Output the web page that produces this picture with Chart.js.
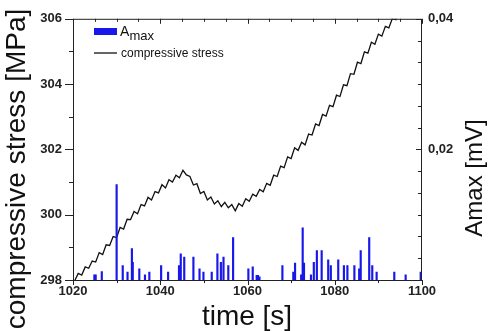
<!DOCTYPE html>
<html>
<head>
<meta charset="utf-8">
<script src="https://cdn.jsdelivr.net/npm/chart.js@4.4.1/dist/chart.umd.min.js"></script>
<style>
  html, body { margin: 0; padding: 0; background: #fff; }
  #wrap { width: 488px; height: 331px; position: relative; }
</style>
</head>
<body>
<div id="wrap"><canvas id="stressChart"></canvas></div>
<script>
// axis ranges and labelled ticks
const timeMin = 1020, timeMax = 1100;
const stressMin = 298, stressMax = 306;
const ampMin = 0, ampMax = 0.04;
const timeTicks = [1020, 1040, 1060, 1080, 1100];
const stressTicks = [298, 300, 302, 304, 306];
const ampTicks = [0.02, 0.04];

// compressive stress [MPa] over time [s]
const stressTime = [
  1020.4, 1021.2, 1022.0, 1022.8, 1023.6, 1024.4, 1025.2, 1026.0, 1026.8, 1027.6,
  1028.4, 1029.2, 1030.0, 1030.8, 1031.6, 1032.4, 1033.2, 1034.0, 1034.8, 1035.6,
  1036.4, 1037.2, 1038.0, 1038.8, 1039.6, 1040.4, 1041.2, 1042.0, 1042.8, 1043.6,
  1044.4, 1045.2, 1046.0, 1046.8, 1047.6, 1048.4, 1049.2, 1050.0, 1050.8, 1051.6,
  1052.4, 1053.2, 1054.0, 1054.8, 1055.6, 1056.4, 1057.2, 1058.0, 1058.8, 1059.6,
  1060.4, 1061.2, 1062.0, 1062.8, 1063.6, 1064.4, 1065.2, 1066.0, 1066.8, 1067.6,
  1068.4, 1069.2, 1070.0, 1070.8, 1071.6, 1072.4, 1073.2, 1074.0, 1074.8, 1075.6,
  1076.4, 1077.2, 1078.0, 1078.8, 1079.6, 1080.4, 1081.2, 1082.0, 1082.8, 1083.6,
  1084.4, 1085.2, 1086.0, 1086.8, 1087.6, 1088.4, 1089.2, 1090.0, 1090.8, 1091.6,
  1092.4, 1093.2, 1094.0, 1094.8
];
const stressValue = [
  297.98, 298.20, 298.15, 298.40, 298.36, 298.58, 298.55, 298.84, 298.78, 299.08,
  299.06, 299.33, 299.30, 299.61, 299.56, 299.86, 299.85, 300.10, 300.03, 300.31,
  300.27, 300.53, 300.45, 300.71, 300.67, 300.92, 300.82, 301.07, 301.00, 301.21,
  301.13, 301.36, 301.22, 301.17, 300.91, 300.95, 300.65, 300.71, 300.45, 300.54,
  300.33, 300.43, 300.25, 300.38, 300.21, 300.31, 300.12, 300.34, 300.26, 300.49,
  300.41, 300.63, 300.56, 300.77, 300.70, 300.96, 300.90, 301.21, 301.17, 301.49,
  301.44, 301.77, 301.72, 302.05, 301.97, 302.22, 302.14, 302.47, 302.44, 302.78,
  302.73, 303.07, 303.02, 303.35, 303.31, 303.66, 303.62, 303.98, 303.95, 304.32,
  304.30, 304.67, 304.63, 304.99, 304.95, 305.28, 305.22, 305.53, 305.47, 305.77,
  305.72, 306.01, 305.97, 306.25
];

// acoustic emission events: time [s] and maximum amplitude [mV]
const burstTime = [
  1024.9, 1025.2, 1026.6, 1030.0, 1031.4, 1032.5, 1033.5, 1033.7, 1035.2, 1036.5,
  1037.5, 1040.2, 1041.8, 1044.3, 1044.7, 1045.5, 1047.6, 1049.0, 1049.9, 1051.8,
  1053.1, 1053.9, 1054.5, 1055.6, 1056.7, 1060.2, 1061.2, 1062.1, 1062.4, 1062.75,
  1068.0, 1070.5, 1070.9, 1072.3, 1072.65, 1072.95, 1074.55, 1075.2, 1075.9, 1077.0,
  1078.5, 1079.1, 1080.8, 1082.1, 1082.9, 1084.5, 1085.6, 1085.95, 1087.9, 1088.6,
  1089.6, 1093.65, 1096.25, 1099.7
];
const burstAmp = [
  0.0008, 0.0008, 0.0013, 0.0146, 0.0022, 0.0012, 0.0048, 0.0027, 0.0017, 0.0008,
  0.0012, 0.0022, 0.0012, 0.0022, 0.0040, 0.0035, 0.0035, 0.0017, 0.0012, 0.0012,
  0.0040, 0.0027, 0.0035, 0.0022, 0.0065, 0.0017, 0.0020, 0.0007, 0.0007, 0.0005,
  0.0022, 0.0012, 0.0026, 0.0008, 0.0080, 0.0026, 0.0008, 0.0027, 0.0045, 0.0045,
  0.0031, 0.0022, 0.0031, 0.0022, 0.0022, 0.0022, 0.0017, 0.0045, 0.0065, 0.0022,
  0.0012, 0.0012, 0.0008, 0.0012
];

const FONT = '"Liberation Sans", Arial, Helvetica, sans-serif';
const BLUE = 'rgb(24, 24, 235)';
const INK = '#222';

// frame, hand-drawn tick marks, legend and axis titles
const decorations = {
  id: 'decorations',
  afterDatasetsDraw(chart) {
    const { ctx, chartArea: a, scales } = chart;
    const x = scales.x, y = scales.y, y2 = scales.y2;
    ctx.save();
    ctx.strokeStyle = INK;
    ctx.lineWidth = 1;

    ctx.strokeRect(a.left + 0.5, a.top + 0.5, a.right - a.left - 1, a.bottom - a.top);

    ctx.beginPath();
    // left: outward, major every 2 MPa, minor every 1
    for (let v = stressMin; v <= stressMax; v += 1) {
      const py = Math.round(y.getPixelForValue(v)) + 0.5;
      const len = (v % 2 === 0) ? 8 : 4;
      ctx.moveTo(a.left - len, py); ctx.lineTo(a.left, py);
    }
    // bottom: outward, top: inward
    for (let t = timeMin; t <= timeMax; t += 5) {
      const px = Math.round(x.getPixelForValue(t)) + 0.5;
      if (t % 10 === 0) {
        const len = (t % 20 === 0) ? 5 : 3;
        ctx.moveTo(px, a.bottom); ctx.lineTo(px, a.bottom + len);
      }
      const tl = (t % 20 === 0) ? 5 : 3;
      ctx.moveTo(px, a.top); ctx.lineTo(px, a.top + tl);
    }
    // right: inward, six divisions per 0.02 mV
    for (let i = 0; i <= 12; i++) {
      const v = ampMin + i * (ampMax - ampMin) / 12;
      const py = Math.round(y2.getPixelForValue(v)) + 0.5;
      const len = (i % 6 === 0) ? 6 : 4;
      ctx.moveTo(a.right - len, py); ctx.lineTo(a.right, py);
    }
    ctx.stroke();

    // legend
    ctx.fillStyle = BLUE;
    ctx.fillRect(94, 28, 23, 7);
    ctx.fillStyle = '#111';
    ctx.textBaseline = 'alphabetic';
    ctx.textAlign = 'left';
    ctx.font = '14px ' + FONT;
    ctx.fillText('A', 120, 36);
    ctx.font = '13px ' + FONT;
    ctx.fillText('max', 129.5, 40);
    ctx.beginPath();
    ctx.strokeStyle = '#111';
    ctx.lineWidth = 1.3;
    ctx.moveTo(94, 53); ctx.lineTo(117, 53);
    ctx.stroke();
    ctx.font = '12px ' + FONT;
    ctx.fillText('compressive stress', 121, 57);

    // axis titles
    ctx.textAlign = 'center';
    ctx.font = '28px ' + FONT;
    ctx.fillText('time [s]', 247, 325);

    ctx.save();
    ctx.translate(25, 169);
    ctx.rotate(-Math.PI / 2);
    ctx.fillText('compressive stress [MPa]', 0, 0);
    ctx.restore();

    ctx.save();
    ctx.font = '24px ' + FONT;
    ctx.translate(482, 178);
    ctx.rotate(-Math.PI / 2);
    ctx.fillText('Amax [mV]', 0, 0);
    ctx.restore();

    ctx.restore();
  }
};

const tickFont = { family: FONT, size: 13, weight: 'bold' };

new Chart(document.getElementById('stressChart'), {
  type: 'bar',
  data: {
    datasets: [
      {
        label: 'Amax',
        type: 'bar',
        data: burstTime.map((t, i) => ({ x: t, y: burstAmp[i] })),
        yAxisID: 'y2',
        backgroundColor: BLUE,
        borderWidth: 0,
        barThickness: 1.5,
        grouped: false,
        order: 0
      },
      {
        label: 'compressive stress',
        type: 'line',
        data: stressTime.map((t, i) => ({ x: t, y: stressValue[i] })),
        yAxisID: 'y',
        borderColor: '#111',
        borderWidth: 1.3,
        pointRadius: 0,
        tension: 0,
        fill: false,
        order: 1
      }
    ]
  },
  options: {
    responsive: true,
    maintainAspectRatio: false,
    animation: false,
    layout: { padding: { top: 16, left: 0, right: 0, bottom: 0 } },
    plugins: { legend: { display: false }, tooltip: { enabled: false } },
    scales: {
      x: {
        type: 'linear',
        min: timeMin,
        max: timeMax,
        offset: false,
        grid: { display: false, drawTicks: false },
        border: { display: false },
        afterBuildTicks: s => { s.ticks = timeTicks.map(v => ({ value: v })); },
        afterFit: s => { s.height = 51; },
        ticks: { color: INK, font: tickFont, padding: 4, maxRotation: 0, callback: v => String(v) }
      },
      y: {
        position: 'left',
        min: stressMin,
        max: stressMax,
        grid: { display: false, drawTicks: false },
        border: { display: false },
        afterBuildTicks: s => { s.ticks = stressTicks.map(v => ({ value: v })); },
        afterFit: s => { s.width = 73; },
        ticks: { color: INK, font: tickFont, padding: 11, callback: v => String(v) }
      },
      y2: {
        position: 'right',
        min: ampMin,
        max: ampMax,
        grid: { display: false, drawTicks: false },
        border: { display: false },
        afterBuildTicks: s => { s.ticks = ampTicks.map(v => ({ value: v })); },
        afterFit: s => { s.width = 66; },
        ticks: {
          color: INK, font: tickFont, padding: 6,
          callback: v => v.toFixed(2).replace('.', ',')
        }
      }
    }
  },
  plugins: [decorations]
});
</script>
</body>
</html>
